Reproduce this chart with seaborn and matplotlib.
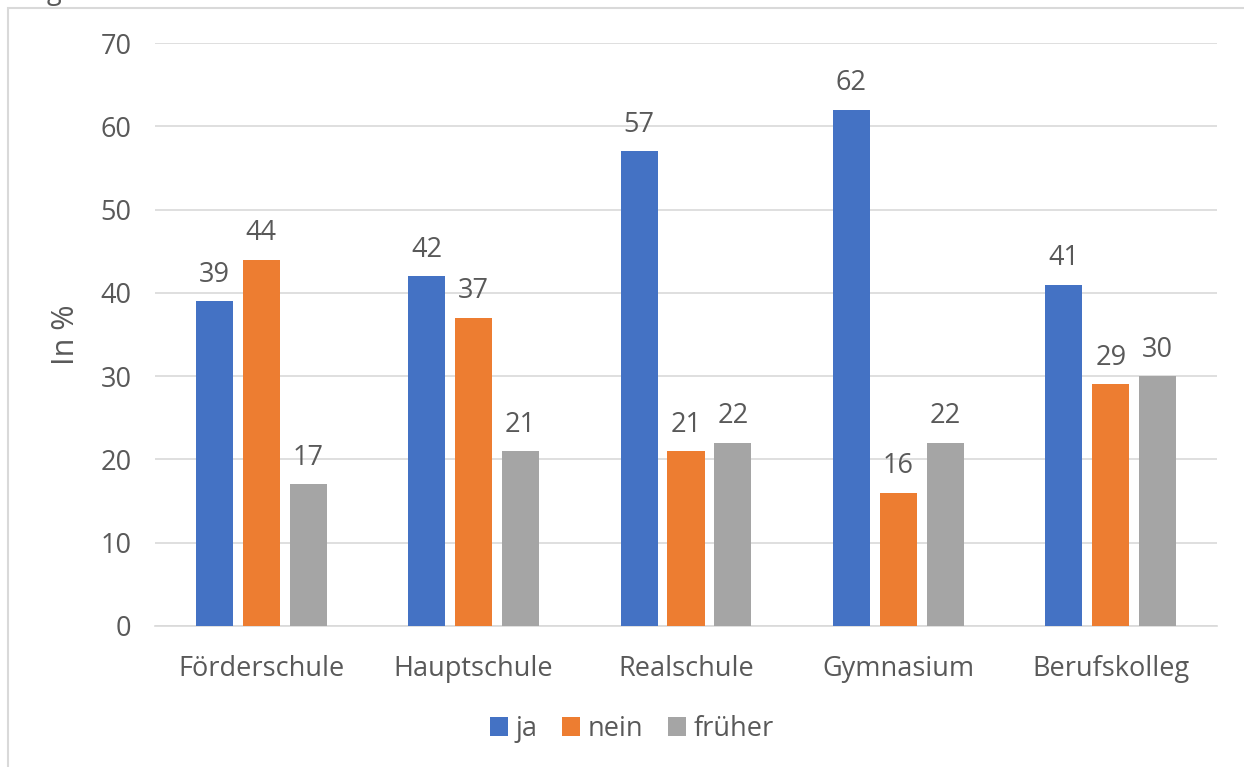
import seaborn as sns
import pandas as pd
import matplotlib.pyplot as plt
from matplotlib.patches import Rectangle

schools = ['Förderschule', 'Hauptschule', 'Realschule', 'Gymnasium', 'Berufskolleg']
ja = [39, 42, 57, 62, 41]
nein = [44, 37, 21, 16, 29]
frueher = [17, 21, 22, 22, 30]
answers = ['ja', 'nein', 'früher']
colors = ['#4472C4', '#ED7D31', '#A5A5A5']

df = pd.DataFrame({
    'Schulform': schools * 3,
    'Antwort': ['ja'] * 5 + ['nein'] * 5 + ['früher'] * 5,
    'Wert': ja + nein + frueher,
})

sns.set_style('white')
plt.rcParams['font.family'] = ['Open Sans', 'DejaVu Sans']
text_col = '#595959'
fs = 19.5

fig = plt.figure(figsize=(12.44, 7.67), dpi=100)
ax = fig.add_axes([155 / 1244, 1 - 626 / 767, (1217 - 155) / 1244, (626 - 43) / 767])

sns.barplot(data=df, x='Schulform', y='Wert', hue='Antwort', hue_order=answers,
            palette=colors, width=0.663, gap=0.21, saturation=1, linewidth=0,
            ax=ax, zorder=3)

for c in ax.containers:
    ax.bar_label(c, padding=9, fontsize=fs, color=text_col)

ax.set_ylim(0, 70)
ax.set_yticks(range(0, 71, 10))
ax.yaxis.grid(True, color='#d9d9d9', linewidth=1.2, zorder=0)
for s in ['top', 'right', 'left']:
    ax.spines[s].set_visible(False)
ax.spines['bottom'].set_color('#d9d9d9')
ax.spines['bottom'].set_linewidth(1.2)
ax.tick_params(axis='both', length=0, labelsize=fs, labelcolor=text_col)
ax.tick_params(axis='y', pad=17)
ax.tick_params(axis='x', pad=21)
ax.set_xlabel('')
ax.set_ylabel('In %', fontsize=22, color=text_col, labelpad=14)

handles, labels = ax.get_legend_handles_labels()
ax.legend(handles, labels, loc='center', bbox_to_anchor=(632 / 1244, 1 - 729 / 767),
          bbox_transform=fig.transFigure, ncol=3, frameon=False, fontsize=fs,
          labelcolor=text_col, handlelength=0.65, handleheight=0.65, handletextpad=0.3,
          columnspacing=0.9)

# cut-off title glyph and chart-area border
fig.text(47 / 1244, 1 + 1 / 767, 'g', fontsize=fs, color=text_col, va='baseline')
fig.patches.append(Rectangle((8 / 1244, -0.05), 1.0, 1.05 - 8 / 767, transform=fig.transFigure,
                             fill=False, edgecolor='#d9d9d9', linewidth=1.5))

fig.savefig('out.png', dpi=100)
